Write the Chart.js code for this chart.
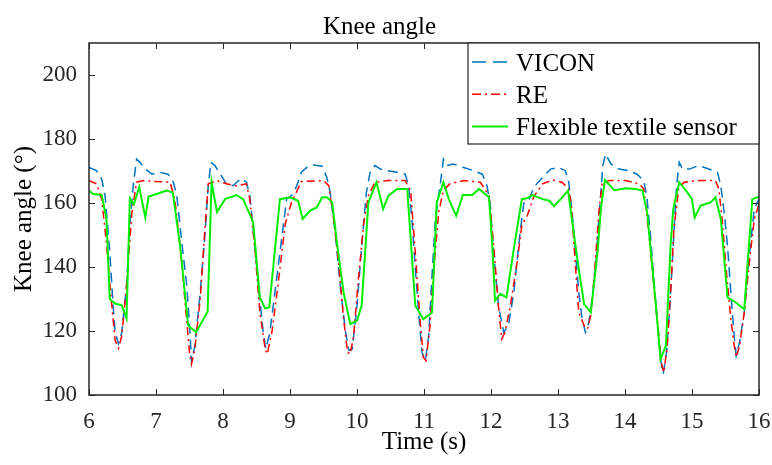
<!DOCTYPE html>
<html>
<head>
<meta charset="utf-8">
<script src="https://cdn.jsdelivr.net/npm/chart.js@4.4.1/dist/chart.umd.min.js"></script>
<style>
  html, body { margin: 0; padding: 0; background: #fff; }
  #wrap { width: 772px; height: 465px; }
</style>
</head>
<body>
<div id="wrap"><canvas id="kneeChart"></canvas></div>
<script>
// Knee angle over time (t in s, angle in degrees)
const viconT = [6.00, 6.11, 6.19, 6.24, 6.31, 6.36, 6.39, 6.44, 6.49, 6.56, 6.61, 6.66, 6.71, 6.76, 6.84, 6.94, 7.06, 7.18, 7.26, 7.31, 7.38, 7.46, 7.51, 7.53, 7.58, 7.66, 7.73, 7.78, 7.82, 7.88, 7.96, 8.05, 8.15, 8.27, 8.35, 8.40, 8.45, 8.53, 8.60, 8.64, 8.70, 8.80, 8.90, 8.95, 9.05, 9.12, 9.17, 9.25, 9.35, 9.48, 9.55, 9.60, 9.68, 9.75, 9.83, 9.88, 9.93, 10.00, 10.07, 10.14, 10.20, 10.27, 10.35, 10.45, 10.60, 10.72, 10.77, 10.82, 10.87, 10.92, 10.97, 11.02, 11.07, 11.12, 11.17, 11.24, 11.29, 11.34, 11.44, 11.59, 11.74, 11.87, 11.94, 11.99, 12.04, 12.11, 12.19, 12.26, 12.34, 12.43, 12.49, 12.56, 12.64, 12.77, 12.89, 13.01, 13.11, 13.16, 13.21, 13.26, 13.31, 13.36, 13.41, 13.46, 13.51, 13.57, 13.62, 13.67, 13.71, 13.79, 13.91, 14.06, 14.18, 14.28, 14.33, 14.38, 14.43, 14.48, 14.53, 14.57, 14.62, 14.67, 14.72, 14.77, 14.81, 14.86, 14.96, 15.10, 15.25, 15.38, 15.43, 15.48, 15.53, 15.58, 15.63, 15.66, 15.71, 15.78, 15.85, 15.93, 16.00];
const viconV = [171.1, 170.1, 167.5, 162.3, 144.6, 128, 119.6, 116, 119.6, 134, 153, 165.4, 173.7, 172.7, 170.6, 169, 169.6, 169, 166.5, 162.3, 148.7, 134, 118.5, 110.2, 115.4, 132, 149.8, 165.4, 172.7, 171.7, 169, 166, 165.4, 167.7, 166.5, 162.3, 151.9, 134, 119.6, 114.4, 119.6, 136.3, 153, 161.3, 162.8, 166.5, 169.6, 171.1, 171.9, 171.5, 168, 163.3, 149.8, 134, 119.6, 113.9, 114.4, 128, 146.6, 163.3, 170.1, 171.7, 170.6, 170.1, 169.6, 169, 165.4, 155, 139.4, 125.8, 113.3, 110.7, 118.5, 137.3, 155, 165.4, 173.7, 171.7, 172.2, 171.1, 170.1, 169, 165.4, 159.2, 144.6, 128, 119.6, 121.7, 132, 150, 160, 160.5, 165, 168, 170.6, 171.1, 170.1, 166.5, 157.2, 144.6, 132, 123.7, 119.6, 122.7, 130, 142.5, 158.1, 171.7, 175.3, 172.2, 170.6, 170.1, 169, 167, 161.2, 149.8, 136.3, 123.7, 111.2, 106.6, 113.3, 128, 146.6, 165.4, 172.7, 170.6, 170.6, 171.7, 170.6, 169.6, 165.4, 157.2, 146.6, 132, 118.5, 112.3, 116.5, 125.8, 142.5, 158.1, 161.2];

const reT = [6.00, 6.11, 6.19, 6.26, 6.34, 6.39, 6.44, 6.49, 6.56, 6.64, 6.71, 6.81, 7.01, 7.21, 7.28, 7.36, 7.43, 7.50, 7.53, 7.58, 7.66, 7.73, 7.78, 7.91, 8.05, 8.20, 8.35, 8.40, 8.48, 8.55, 8.63, 8.66, 8.73, 8.83, 8.93, 9.02, 9.10, 9.17, 9.50, 9.58, 9.65, 9.73, 9.80, 9.86, 9.90, 9.95, 10.02, 10.10, 10.17, 10.27, 10.45, 10.72, 10.80, 10.87, 10.94, 10.99, 11.03, 11.09, 11.15, 11.22, 11.29, 11.39, 11.59, 11.84, 11.97, 12.04, 12.11, 12.16, 12.21, 12.29, 12.39, 12.46, 12.54, 12.64, 12.77, 12.92, 13.06, 13.16, 13.20, 13.26, 13.31, 13.39, 13.44, 13.49, 13.55, 13.61, 13.66, 13.76, 14.01, 14.21, 14.28, 14.36, 14.43, 14.50, 14.55, 14.58, 14.63, 14.68, 14.73, 14.80, 14.88, 15.10, 15.35, 15.40, 15.45, 15.51, 15.58, 15.63, 15.66, 15.71, 15.78, 15.85, 15.93, 16.00];
const reV = [167, 166, 161.2, 147.7, 128, 117, 114.6, 118.5, 134, 157, 166.5, 167, 166.7, 166.5, 161.2, 146.6, 130, 113.3, 109.7, 114.4, 130, 152, 166, 167, 166, 165.4, 166, 161.2, 144.6, 125.8, 114.4, 112.8, 119.6, 136, 153.6, 160, 163.6, 166.7, 167, 165.4, 155, 140.4, 123.7, 113.3, 112.8, 118.5, 136, 153.6, 162.3, 166.5, 167, 167, 163.9, 144.6, 123.7, 111.8, 110.7, 121.7, 140.4, 157.2, 164, 166, 167, 166.5, 162.3, 146.6, 128, 117.5, 119.6, 128, 141.5, 153, 156, 162, 166, 167.2, 166.5, 164.4, 159.2, 140.4, 125.8, 121.7, 120.6, 124.8, 139.4, 157.2, 166, 167, 167, 166, 164.4, 149.8, 134, 119.6, 109.2, 107.1, 115.4, 132, 151.9, 164.4, 166.5, 167, 167, 164.4, 155, 139.4, 123.7, 115.4, 111.8, 115.4, 125.8, 140.4, 155, 159.6];

const textileT = [6.00, 6.06, 6.19, 6.26, 6.31, 6.39, 6.49, 6.56, 6.61, 6.67, 6.75, 6.84, 6.89, 7.01, 7.16, 7.25, 7.36, 7.48, 7.60, 7.77, 7.83, 7.91, 8.03, 8.20, 8.30, 8.45, 8.55, 8.63, 8.69, 8.85, 9.00, 9.12, 9.19, 9.30, 9.40, 9.48, 9.55, 9.63, 9.70, 9.80, 9.90, 10.00, 10.07, 10.17, 10.29, 10.39, 10.47, 10.60, 10.75, 10.87, 10.99, 11.12, 11.19, 11.29, 11.37, 11.48, 11.58, 11.72, 11.82, 11.97, 12.02, 12.06, 12.14, 12.23, 12.34, 12.46, 12.54, 12.62, 12.77, 12.87, 12.94, 13.04, 13.15, 13.24, 13.31, 13.39, 13.49, 13.59, 13.64, 13.70, 13.84, 14.01, 14.16, 14.26, 14.33, 14.41, 14.47, 14.53, 14.61, 14.68, 14.72, 14.81, 14.93, 15.00, 15.04, 15.13, 15.28, 15.35, 15.43, 15.53, 15.65, 15.78, 15.90, 16.00];
const textileV = [163.9, 162.8, 162.5, 155, 130, 128.6, 128, 124, 161.5, 159.6, 165, 155.5, 162, 162.8, 163.9, 163.3, 146.6, 121.7, 119.6, 126, 166.5, 157.2, 161.2, 162.5, 161.2, 154, 130.5, 127, 127.4, 161.2, 161.8, 160.7, 155, 157.6, 158.6, 161.8, 161.8, 160.2, 147.7, 132, 122.2, 123.2, 128, 160.2, 166.5, 158.1, 162.3, 164.4, 164.4, 128, 123.7, 125.8, 160.2, 166.5, 161.2, 156, 162.5, 162.5, 164.4, 161.8, 146.6, 129.5, 131.6, 130.5, 145.6, 161.2, 161.5, 162.5, 161.2, 160.7, 159, 161.2, 163.9, 149.8, 139.4, 128.4, 125.8, 144.6, 158.1, 167.2, 164, 164.6, 164.4, 163.9, 157.2, 139.4, 125.8, 111.2, 115.4, 146.6, 158.1, 166.5, 163.3, 161.2, 155.5, 159.2, 160.2, 161.8, 155, 130.5, 129, 126.8, 161.2, 162];

const seriesNames = ["VICON", "RE", "Flexible textile sensor"];
const xTicks = [6, 7, 8, 9, 10, 11, 12, 13, 14, 15, 16];
const yTicks = [100, 120, 140, 160, 180, 200];

const serif = "'Liberation Serif', 'Times New Roman', serif";
const axisColor = "#262626";

function pairs(ts, vs) {
    return ts.map(function (t, i) { return { x: t, y: vs[i] }; });
}

// MATLAB style box, inward ticks and legend
const matlabFrame = {
    id: "matlabFrame",
    afterDraw: function (chart) {
        const ctx = chart.ctx;
        const a = chart.chartArea;
        const xs = chart.scales.x;
        const ys = chart.scales.y;
        ctx.save();
        ctx.strokeStyle = axisColor;
        ctx.lineWidth = 1.5;
        ctx.strokeRect(a.left, a.top, a.right - a.left, a.bottom - a.top);
        ctx.beginPath();
        xs.ticks.forEach(function (t) {
            const px = Math.round(xs.getPixelForValue(t.value)) + 0.5;
            ctx.moveTo(px, a.bottom); ctx.lineTo(px, a.bottom - 6);
            ctx.moveTo(px, a.top); ctx.lineTo(px, a.top + 6);
        });
        ys.ticks.forEach(function (t) {
            const py = Math.round(ys.getPixelForValue(t.value)) + 0.5;
            ctx.moveTo(a.left, py); ctx.lineTo(a.left + 6, py);
            ctx.moveTo(a.right, py); ctx.lineTo(a.right - 6, py);
        });
        ctx.lineWidth = 1;
        ctx.stroke();

        // legend box in the upper right corner
        const bx = a.right - 291, by = a.top, bw = 291, bh = 101;
        ctx.fillStyle = "#fff";
        ctx.fillRect(bx, by, bw, bh);
        ctx.lineWidth = 1.2;
        ctx.strokeRect(bx, by, bw, bh);
        ctx.font = "25px " + serif;
        ctx.textBaseline = "alphabetic";
        ctx.fillStyle = "#000";
        chart.data.datasets.forEach(function (ds, i) {
            const cy = by + 19 + i * 32.3;
            ctx.beginPath();
            ctx.strokeStyle = ds.borderColor;
            ctx.lineWidth = ds.borderWidth;
            ctx.setLineDash(ds.legendDash);
            ctx.moveTo(bx + 4, cy);
            ctx.lineTo(bx + 40, cy);
            ctx.stroke();
            ctx.setLineDash([]);
            ctx.fillText(ds.label, bx + 48, cy + 8.5);
        });
        ctx.restore();
    }
};

new Chart(document.getElementById("kneeChart"), {
    type: "scatter",
    data: {
        datasets: [{
            label: seriesNames[0],
            data: pairs(viconT, viconV),
            showLine: true,
            borderColor: "#0072BD",
            borderWidth: 1.5,
            borderDash: [10, 6],
            legendDash: [14, 7],
            pointRadius: 0,
            order: 2
        }, {
            label: seriesNames[1],
            data: pairs(reT, reV),
            showLine: true,
            borderColor: "#FF0000",
            borderWidth: 1.5,
            borderDash: [8, 4, 2, 4],
            legendDash: [9, 4, 2, 4],
            pointRadius: 0,
            order: 1
        }, {
            label: seriesNames[2],
            data: pairs(textileT, textileV),
            showLine: true,
            borderColor: "#00EE00",
            borderWidth: 2,
            borderDash: [],
            legendDash: [],
            pointRadius: 0,
            order: 0
        }]
    },
    options: {
        responsive: true,
        maintainAspectRatio: false,
        animation: false,
        layout: { padding: { left: 0, right: 13, top: 0, bottom: 0 } },
        plugins: {
            legend: { display: false },
            tooltip: { enabled: false },
            title: {
                display: true,
                text: "Knee angle",
                color: "#000",
                font: { family: serif, size: 25, weight: "normal" },
                padding: { top: 12, bottom: 1 }
            }
        },
        scales: {
            x: {
                type: "linear",
                min: xTicks[0],
                max: xTicks[xTicks.length - 1],
                afterBuildTicks: function (s) { s.ticks = xTicks.map(function (v) { return { value: v }; }); },
                afterFit: function (s) { s.height = 70; s.paddingLeft = 0; s.paddingRight = 0; },
                grid: { display: false, drawTicks: false },
                border: { display: false },
                ticks: { color: axisColor, font: { family: serif, size: 23 }, padding: 13, maxRotation: 0 },
                title: {
                    display: true,
                    text: "Time (s)",
                    color: "#000",
                    font: { family: serif, size: 25 },
                    padding: { top: 0, bottom: 8 }
                }
            },
            y: {
                min: 100,
                max: 210,
                afterBuildTicks: function (s) { s.ticks = yTicks.map(function (v) { return { value: v }; }); },
                afterFit: function (s) { s.width = 89; s.paddingTop = 0; s.paddingBottom = 0; },
                grid: { display: false, drawTicks: false },
                border: { display: false },
                ticks: { color: axisColor, font: { family: serif, size: 23 }, padding: 12 },
                title: {
                    display: true,
                    text: "Knee angle (°)",
                    color: "#000",
                    font: { family: serif, size: 25 },
                    padding: { top: 9, bottom: 0 }
                }
            }
        }
    },
    plugins: [matlabFrame]
});
</script>
</body>
</html>
